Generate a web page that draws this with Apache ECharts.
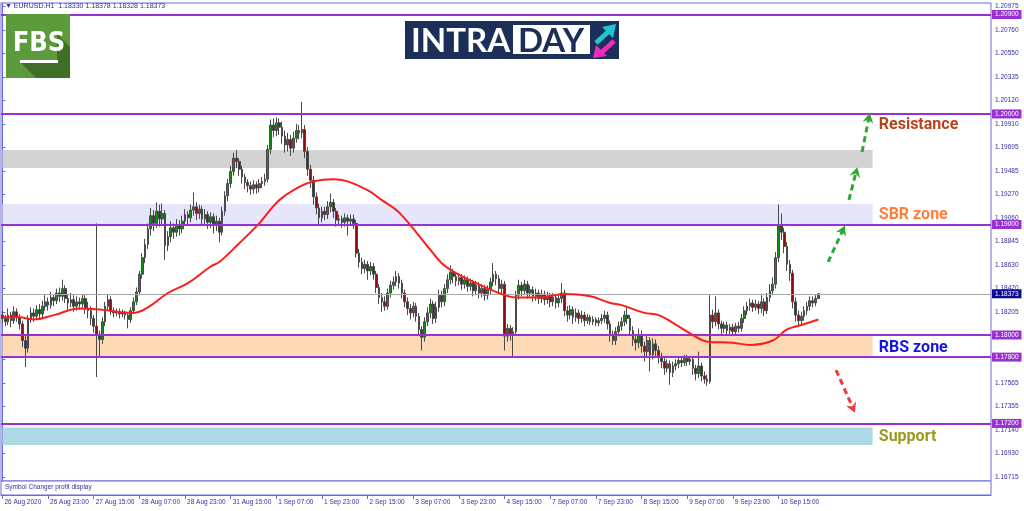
<!DOCTYPE html>
<html><head><meta charset="utf-8">
<script src="https://cdn.jsdelivr.net/npm/echarts@6/dist/echarts.min.js"></script>
<style>html,body{margin:0;padding:0;background:#fff}#c{width:1024px;height:511px}</style>
</head><body><div id="c"></div>
<script>
// ---- time slots (hourly bars, weekends skipped) ----
const tradingDays = ['26 Aug','27 Aug','28 Aug','31 Aug','1 Sep','2 Sep','3 Sep','4 Sep','7 Sep','8 Sep','9 Sep','10 Sep','11 Sep','14 Sep','15 Sep'];
const firstHour = 7;
const slotCount = 347;
const firstLabel = '26 Aug 2020';
const labelEvery = 16;

// ---- EURUSD H1 candles ----
const opens = [
1.1818,1.1815,1.1812,1.1818,1.1813,1.1821,1.1816,1.1810,1.1795,1.1788,
1.1815,1.1820,1.1817,1.1823,1.1819,1.1826,1.1830,1.1827,1.1834,1.1831,
1.1838,1.1835,1.1842,1.1833,1.1829,1.1832,1.1826,1.1830,1.1828,1.1833,
1.1824,1.1822,1.1815,1.1808,1.1800,1.1796,1.1812,1.1826,1.1832,1.1822,
1.1820,1.1821,1.1819,1.1820,1.1818,1.1814,1.1822,1.1830,1.1839,1.1855,
1.1870,1.1882,1.1896,1.1908,1.1901,1.1912,1.1905,1.1910,1.1881,1.1889,
1.1897,1.1893,1.1900,1.1896,1.1903,1.1909,1.1906,1.1913,1.1916,1.1910,
1.1914,1.1905,1.1909,1.1902,1.1907,1.1899,1.1903,1.1893,1.1912,1.1926,
1.1937,1.1948,1.1960,1.1957,1.1950,1.1943,1.1938,1.1935,1.1932,1.1936,
1.1933,1.1937,1.1939,1.1941,1.1968,1.1990,1.1985,1.1992,1.1988,1.1980,
1.1972,1.1977,1.1969,1.1978,1.1985,1.1983,1.1986,1.1966,1.1950,1.1940,
1.1925,1.1915,1.1906,1.1912,1.1909,1.1916,1.1920,1.1912,1.1904,1.1905,
1.1902,1.1906,1.1903,1.1905,1.1901,1.1874,1.1866,1.1860,1.1864,1.1858,
1.1862,1.1855,1.1843,1.1834,1.1830,1.1826,1.1838,1.1845,1.1848,1.1853,
1.1847,1.1838,1.1830,1.1824,1.1820,1.1826,1.1817,1.1805,1.1798,1.1812,
1.1820,1.1828,1.1815,1.1825,1.1836,1.1830,1.1842,1.1850,1.1857,1.1853,
1.1849,1.1852,1.1846,1.1850,1.1844,1.1847,1.1840,1.1845,1.1838,1.1842,
1.1836,1.1841,1.1848,1.1855,1.1851,1.1842,1.1846,1.1799,1.1806,1.1801,
1.1803,1.1836,1.1845,1.1840,1.1846,1.1838,1.1841,1.1835,1.1838,1.1833,
1.1837,1.1832,1.1835,1.1830,1.1834,1.1829,1.1833,1.1838,1.1822,1.1818,
1.1823,1.1816,1.1820,1.1815,1.1818,1.1813,1.1816,1.1812,1.1814,1.1811,
1.1813,1.1815,1.1818,1.1810,1.1800,1.1795,1.1803,1.1808,1.1812,1.1818,
1.1815,1.1804,1.1796,1.1793,1.1800,1.1790,1.1785,1.1795,1.1782,1.1792,
1.1786,1.1780,1.1776,1.1770,1.1774,1.1766,1.1772,1.1774,1.1777,1.1775,
1.1779,1.1776,1.1778,1.1770,1.1765,1.1772,1.1763,1.1760,1.1758,1.1818,
1.1812,1.1820,1.1810,1.1806,1.1809,1.1804,1.1807,1.1803,1.1808,1.1806,
1.1815,1.1822,1.1826,1.1829,1.1825,1.1828,1.1824,1.1830,1.1822,1.1834,
1.1840,1.1846,1.1870,1.1900,1.1893,1.1880,1.1864,1.1856,1.1830,1.1818,
1.1813,1.1817,1.1822,1.1826,1.1831,1.1829,1.18330];
const closes = [
1.1815,1.1812,1.1818,1.1813,1.1821,1.1816,1.1810,1.1795,1.1788,1.1815,
1.1820,1.1817,1.1823,1.1819,1.1826,1.1830,1.1827,1.1834,1.1831,1.1838,
1.1835,1.1842,1.1833,1.1829,1.1832,1.1826,1.1830,1.1828,1.1833,1.1824,
1.1822,1.1815,1.1808,1.1800,1.1796,1.1812,1.1826,1.1832,1.1822,1.1820,
1.1821,1.1819,1.1820,1.1818,1.1814,1.1822,1.1830,1.1839,1.1855,1.1870,
1.1882,1.1896,1.1908,1.1901,1.1912,1.1905,1.1910,1.1881,1.1889,1.1897,
1.1893,1.1900,1.1896,1.1903,1.1909,1.1906,1.1913,1.1916,1.1910,1.1914,
1.1905,1.1909,1.1902,1.1907,1.1899,1.1903,1.1893,1.1912,1.1926,1.1937,
1.1948,1.1960,1.1957,1.1950,1.1943,1.1938,1.1935,1.1932,1.1936,1.1933,
1.1937,1.1939,1.1941,1.1968,1.1990,1.1985,1.1992,1.1988,1.1980,1.1972,
1.1977,1.1969,1.1978,1.1985,1.1983,1.1986,1.1966,1.1950,1.1940,1.1925,
1.1915,1.1906,1.1912,1.1909,1.1916,1.1920,1.1912,1.1904,1.1905,1.1902,
1.1906,1.1903,1.1905,1.1901,1.1874,1.1866,1.1860,1.1864,1.1858,1.1862,
1.1855,1.1843,1.1834,1.1830,1.1826,1.1838,1.1845,1.1848,1.1853,1.1847,
1.1838,1.1830,1.1824,1.1820,1.1826,1.1817,1.1805,1.1798,1.1812,1.1820,
1.1828,1.1815,1.1825,1.1836,1.1830,1.1842,1.1850,1.1857,1.1853,1.1849,
1.1852,1.1846,1.1850,1.1844,1.1847,1.1840,1.1845,1.1838,1.1842,1.1836,
1.1841,1.1848,1.1855,1.1851,1.1842,1.1846,1.1799,1.1806,1.1801,1.1803,
1.1836,1.1845,1.1840,1.1846,1.1838,1.1841,1.1835,1.1838,1.1833,1.1837,
1.1832,1.1835,1.1830,1.1834,1.1829,1.1833,1.1838,1.1822,1.1818,1.1823,
1.1816,1.1820,1.1815,1.1818,1.1813,1.1816,1.1812,1.1814,1.1811,1.1813,
1.1815,1.1818,1.1810,1.1800,1.1795,1.1803,1.1808,1.1812,1.1818,1.1815,
1.1804,1.1796,1.1793,1.1800,1.1790,1.1785,1.1795,1.1782,1.1792,1.1786,
1.1780,1.1776,1.1770,1.1774,1.1766,1.1772,1.1774,1.1777,1.1775,1.1779,
1.1776,1.1778,1.1770,1.1765,1.1772,1.1763,1.1760,1.1758,1.1818,1.1812,
1.1820,1.1810,1.1806,1.1809,1.1804,1.1807,1.1803,1.1808,1.1806,1.1815,
1.1822,1.1826,1.1829,1.1825,1.1828,1.1824,1.1830,1.1822,1.1834,1.1840,
1.1846,1.1870,1.1900,1.1893,1.1880,1.1864,1.1856,1.1830,1.1818,1.1813,
1.1817,1.1822,1.1826,1.1831,1.1829,1.1833,1.18373];
const lows = [
1.1811,1.1808,1.1809,1.1807,1.1810,1.1812,1.1805,1.1789,1.1771,1.1784,
1.1811,1.1812,1.1814,1.1815,1.1816,1.1822,1.1822,1.1824,1.1826,1.1828,
1.1830,1.1831,1.1829,1.1823,1.1825,1.1821,1.1822,1.1823,1.1825,1.1819,
1.1815,1.1809,1.1802,1.1762,1.1781,1.1792,1.1808,1.1822,1.1818,1.1816,
1.1817,1.1815,1.1816,1.1814,1.1806,1.1811,1.1819,1.1827,1.1836,1.1851,
1.1865,1.1878,1.1890,1.1894,1.1897,1.1898,1.1899,1.1868,1.1876,1.1884,
1.1887,1.1889,1.1890,1.1892,1.1899,1.1900,1.1902,1.1908,1.1904,1.1905,
1.1899,1.1900,1.1896,1.1897,1.1892,1.1894,1.1884,1.1890,1.1908,1.1921,
1.1933,1.1944,1.1951,1.1944,1.1937,1.1932,1.1929,1.1927,1.1928,1.1928,
1.1929,1.1933,1.1935,1.1938,1.1964,1.1979,1.1980,1.1981,1.1973,1.1965,
1.1966,1.1962,1.1965,1.1974,1.1977,1.1978,1.1960,1.1944,1.1933,1.1918,
1.1909,1.1900,1.1902,1.1904,1.1905,1.1911,1.1906,1.1898,1.1900,1.1897,
1.1898,1.1890,1.1899,1.1896,1.1870,1.1861,1.1855,1.1856,1.1850,1.1854,
1.1850,1.1838,1.1828,1.1821,1.1822,1.1823,1.1834,1.1841,1.1844,1.1842,
1.1833,1.1825,1.1818,1.1814,1.1816,1.1812,1.1799,1.1786,1.1794,1.1808,
1.1815,1.1810,1.1811,1.1821,1.1825,1.1826,1.1838,1.1846,1.1847,1.1844,
1.1845,1.1841,1.1842,1.1839,1.1840,1.1835,1.1836,1.1833,1.1834,1.1831,
1.1832,1.1837,1.1844,1.1845,1.1837,1.1838,1.1786,1.1794,1.1795,1.1780,
1.1800,1.1832,1.1835,1.1836,1.1833,1.1834,1.1830,1.1831,1.1828,1.1829,
1.1827,1.1828,1.1825,1.1826,1.1824,1.1825,1.1829,1.1817,1.1812,1.1814,
1.1810,1.1812,1.1810,1.1811,1.1808,1.1810,1.1809,1.1809,1.1808,1.1808,
1.1810,1.1811,1.1805,1.1794,1.1791,1.1791,1.1799,1.1804,1.1808,1.1810,
1.1799,1.1790,1.1786,1.1788,1.1784,1.1776,1.1781,1.1767,1.1778,1.1780,
1.1774,1.1770,1.1764,1.1766,1.1755,1.1762,1.1768,1.1770,1.1771,1.1772,
1.1772,1.1773,1.1764,1.1759,1.1761,1.1758,1.1756,1.1754,1.1756,1.1806,
1.1808,1.1805,1.1801,1.1802,1.1800,1.1801,1.1799,1.1800,1.1802,1.1803,
1.1811,1.1818,1.1822,1.1821,1.1822,1.1819,1.1820,1.1817,1.1819,1.1830,
1.1836,1.1842,1.1866,1.1886,1.1874,1.1858,1.1849,1.1824,1.1812,1.1809,
1.1810,1.1813,1.1818,1.1822,1.1825,1.1826,1.18328];
const highs = [
1.1822,1.1818,1.1824,1.1821,1.1826,1.1824,1.1819,1.1813,1.1799,1.1818,
1.1825,1.1824,1.1827,1.1828,1.1831,1.1836,1.1834,1.1839,1.1837,1.1842,
1.1843,1.1850,1.1845,1.1837,1.1838,1.1836,1.1835,1.1834,1.1837,1.1836,
1.1830,1.1826,1.1818,1.1901,1.1804,1.1816,1.1830,1.1837,1.1835,1.1825,
1.1824,1.1824,1.1823,1.1822,1.1820,1.1825,1.1834,1.1843,1.1858,1.1874,
1.1887,1.1901,1.1915,1.1913,1.1920,1.1918,1.1919,1.1913,1.1894,1.1903,
1.1901,1.1905,1.1904,1.1908,1.1914,1.1912,1.1918,1.1929,1.1920,1.1918,
1.1917,1.1914,1.1912,1.1911,1.1910,1.1908,1.1906,1.1916,1.1930,1.1941,
1.1953,1.1965,1.1967,1.1960,1.1953,1.1946,1.1941,1.1939,1.1940,1.1939,
1.1941,1.1943,1.1946,1.1972,1.1995,1.1996,1.1997,1.1996,1.1993,1.1985,
1.1983,1.1981,1.1984,1.1991,1.1990,1.2011,1.1990,1.1970,1.1954,1.1944,
1.1929,1.1919,1.1916,1.1916,1.1921,1.1928,1.1923,1.1915,1.1909,1.1908,
1.1910,1.1909,1.1909,1.1909,1.1904,1.1878,1.1870,1.1868,1.1867,1.1866,
1.1865,1.1858,1.1846,1.1838,1.1835,1.1842,1.1849,1.1853,1.1858,1.1856,
1.1850,1.1841,1.1834,1.1828,1.1830,1.1829,1.1820,1.1808,1.1816,1.1825,
1.1833,1.1831,1.1830,1.1841,1.1840,1.1846,1.1855,1.1863,1.1860,1.1856,
1.1856,1.1855,1.1854,1.1853,1.1851,1.1850,1.1849,1.1848,1.1846,1.1845,
1.1845,1.1852,1.1865,1.1858,1.1854,1.1850,1.1849,1.1810,1.1809,1.1807,
1.1840,1.1850,1.1848,1.1850,1.1849,1.1845,1.1844,1.1842,1.1841,1.1841,
1.1840,1.1839,1.1838,1.1838,1.1837,1.1837,1.1847,1.1841,1.1826,1.1827,
1.1826,1.1824,1.1823,1.1822,1.1821,1.1819,1.1818,1.1817,1.1816,1.1816,
1.1819,1.1822,1.1821,1.1813,1.1804,1.1807,1.1812,1.1816,1.1822,1.1825,
1.1818,1.1808,1.1800,1.1806,1.1804,1.1794,1.1800,1.1798,1.1797,1.1796,
1.1790,1.1784,1.1780,1.1778,1.1777,1.1776,1.1778,1.1780,1.1781,1.1782,
1.1782,1.1781,1.1781,1.1773,1.1785,1.1775,1.1767,1.1764,1.1836,1.1823,
1.1835,1.1823,1.1813,1.1812,1.1812,1.1810,1.1810,1.1811,1.1812,1.1819,
1.1826,1.1830,1.1833,1.1832,1.1832,1.1831,1.1836,1.1833,1.1838,1.1846,
1.1852,1.1875,1.1918,1.1910,1.1897,1.1884,1.1868,1.1859,1.1834,1.1822,
1.1821,1.1826,1.1830,1.1835,1.1835,1.1836,1.18378];

// ---- red moving average (read at sample bars) ----
const maIndex = [0,6,11,18,27,34,46,51,58,65,73,76,83,90,97,104,109,116,121,128,133,139,150,154,159,166,173,180,188,197,206,213,217,225,230,235,242,247,256,262,270,275,280,286];
const maValues = [1.1816,1.1816,1.1814,1.1818,1.1824,1.1823,1.1820,1.1825,1.1838,1.1847,1.1862,1.1866,1.1883,1.1901,1.1922,1.1934,1.1939,1.1941,1.1939,1.1931,1.1922,1.1911,1.1877,1.1865,1.1856,1.1847,1.1839,1.1834,1.1834,1.1837,1.1835,1.1829,1.1827,1.1820,1.1818,1.1811,1.1800,1.1794,1.1793,1.1791,1.1795,1.1805,1.1809,1.1814];

// ---- axis ticks ----
const yTicks = [1.20975,1.20760,1.20550,1.20335,1.20120,1.19910,1.19695,1.19485,1.19270,1.19060,1.18845,1.18630,1.18420,1.18205,1.17990,1.17780,1.17565,1.17355,1.17140,1.16930,1.16715];
const yMin = 1.16679, yMax = 1.21004;

// ---- levels and zones ----
const levels = [1.209, 1.200, 1.190, 1.180, 1.178, 1.172];
const lastPrice = 1.18373;
const zoneLow  = [1.19511, 1.19000, 1.17800, 1.17005];
const zoneHigh = [1.19674, 1.19186, 1.18000, 1.17164];
const zoneEndBar = 305;
const noteTexts  = ['Resistance', 'SBR zone', 'RBS zone', 'Support'];
const notePrices = [1.19900, 1.19086, 1.17882, 1.17077];
const noteBar = 307;
const upArrowFromBar = [289.4, 296.7, 301.3];
const upArrowFromPrice = [1.18661, 1.19222, 1.19656];
const upArrowToBar = [294.6, 299.2, 303.7];
const upArrowToPrice = [1.18950, 1.19475, 1.19964];
const downArrowFromBar = [292.2];
const downArrowFromPrice = [1.17683];
const downArrowToBar = [298.1];
const downArrowToPrice = [1.17339];

// ---- build ----
const categories = [];
for (let d = 0; d < tradingDays.length && categories.length < slotCount; d++) {
  for (let h = (d === 0 ? firstHour : 0); h < 24 && categories.length < slotCount; h++) {
    categories.push(tradingDays[d] + ' ' + String(h).padStart(2, '0') + ':00');
  }
}
const lastBar = closes.length - 1;
const candles = opens.map((o, i) => [o, closes[i], lows[i], highs[i]]);
const maData = maIndex.map((b, k) => [b, maValues[k]]);
const showLabelAt = i => i % labelEvery === 0 && i <= lastBar;

const FRAME = '#6a6ad8';
const TXT = '#3030a0';
const PURPLE = '#9b30d0';
const SMALL = 6.5;
const FONT = '"Liberation Sans", Arial, sans-serif';
const chevron = 'path://M5,0 L10,9 L5,6 L0,9 Z';

const chart = echarts.init(document.getElementById('c'), null, {renderer: 'canvas'});
chart.setOption({
  animation: false,
  backgroundColor: '#ffffff',
  textStyle: {fontFamily: FONT},
  grid: [
    {left: 1, right: 33, top: 3, height: 478, show: true, borderColor: FRAME, borderWidth: 1, backgroundColor: '#fff'},
    {left: 1, right: 33, top: 481, height: 14, show: true, borderColor: FRAME, borderWidth: 1, backgroundColor: '#fff'}
  ],
  xAxis: [
    {type: 'category', gridIndex: 0, data: categories, boundaryGap: true, show: false},
    {type: 'category', gridIndex: 1, data: categories, boundaryGap: true,
      axisLine: {show: true, lineStyle: {color: FRAME}},
      axisTick: {show: true, alignWithLabel: true, interval: (i) => showLabelAt(i), length: 4, lineStyle: {color: FRAME}},
      axisLabel: {interval: (i) => showLabelAt(i), align: 'left', color: TXT, fontSize: SMALL, fontFamily: FONT, margin: 4, padding: [0, 0, 0, 2],
        formatter: (v, i) => i === 0 ? firstLabel : v}},
    {type: 'value', gridIndex: 0, min: -0.5, max: slotCount - 0.5, show: false}
  ],
  yAxis: [
    {type: 'value', gridIndex: 0, position: 'right', min: yMin, max: yMax, scale: true,
      splitLine: {show: false},
      axisLine: {show: true, lineStyle: {color: FRAME}},
      axisTick: {show: true, customValues: yTicks, length: 3, lineStyle: {color: FRAME}},
      axisLabel: {customValues: yTicks, color: TXT, fontSize: SMALL, fontFamily: FONT, margin: 4,
        formatter: v => v.toFixed(5)}},
    {type: 'value', gridIndex: 1, show: false, min: 0, max: 1}
  ],
  series: [
    {type: 'line', name: 'zones', xAxisIndex: 0, yAxisIndex: 0, data: [], z: 1, silent: true,
      markArea: {silent: true, data: zoneLow.map((lo, k) => [
        {xAxis: categories[0], yAxis: lo, itemStyle: {color: ['#d3d3d3', '#e6e6fa', '#fdd9b6', '#add8e6'][k], opacity: 1}},
        {xAxis: categories[zoneEndBar], yAxis: zoneHigh[k]}])}},
    {type: 'candlestick', name: 'EURUSD', xAxisIndex: 0, yAxisIndex: 0, data: candles, z: 3, barWidth: 2.2,
      itemStyle: {color: '#138f13', color0: '#8e0c0c', borderColor: '#4a4a4a', borderColor0: '#4a4a4a', borderWidth: 1}},
    {type: 'line', name: 'levels', xAxisIndex: 0, yAxisIndex: 0, data: [], z: 4, silent: true,
      markLine: {silent: true, symbol: ['none', 'none'], animation: false, precision: 5,
        lineStyle: {color: PURPLE, width: 2, type: 'solid'},
        label: {show: true, position: 'end', distance: 1, backgroundColor: PURPLE, color: '#fff', fontSize: SMALL, fontFamily: FONT, padding: [1, 3, 1, 3],
          formatter: p => Number(p.value).toFixed(5)},
        data: levels.map(v => ({yAxis: v}))
          .concat([{yAxis: lastPrice, lineStyle: {color: '#a8a8a8', width: 1},
            label: {backgroundColor: '#0c0c94', color: '#fff'}}])}},
    {type: 'line', name: 'MA', xAxisIndex: 2, yAxisIndex: 0, data: maData, smooth: 0.4, showSymbol: false, z: 5,
      lineStyle: {color: '#ff1c1c', width: 2}, itemStyle: {color: '#ff1c1c'}},
    {type: 'line', name: 'notes', xAxisIndex: 2, yAxisIndex: 0, data: [], z: 6, silent: true,
      markLine: {silent: true, symbol: ['none', chevron], symbolSize: [11, 10], label: {show: false}, precision: 5,
        data: upArrowFromBar.map((b, k) => [
          {coord: [b, upArrowFromPrice[k]], lineStyle: {color: '#2ea82e', width: 3, type: [6, 4]}},
          {coord: [upArrowToBar[k], upArrowToPrice[k]]}])
        .concat(downArrowFromBar.map((b, k) => [
          {coord: [b, downArrowFromPrice[k]], lineStyle: {color: '#f03a3a', width: 3, type: [6, 4]}},
          {coord: [downArrowToBar[k], downArrowToPrice[k]]}]))},
      markPoint: {silent: true, symbol: 'rect', symbolSize: 1, itemStyle: {color: 'rgba(0,0,0,0)'},
        label: {show: true, position: 'right', distance: 0, fontSize: 16, fontWeight: 'bold', fontFamily: 'Roboto'},
        data: noteTexts.map((t, k) => ({coord: [noteBar, notePrices[k]],
          label: {formatter: t, color: ['#b8431c', '#ff7f3a', '#1616e0', '#9c9c1c'][k]}}))}}
  ],
  graphic: [
    {type: 'text', left: 5, top: 3, z: 100, style: {text: '\u25BC EURUSD.H1  1.18330 1.18378 1.18328 1.18373', fill: TXT, fontSize: 7, fontFamily: FONT}},
    {type: 'text', left: 5, top: 484, z: 100, style: {text: 'Symbol Changer profit display', fill: TXT, fontSize: SMALL, fontFamily: FONT}},
    // FBS logo
    {type: 'rect', z: 100, shape: {x: 6, y: 14, width: 64, height: 64}, style: {fill: '#5c9b3c'}},
    {type: 'polygon', z: 101, shape: {points: [[57, 34], [70, 47], [70, 78], [36, 78], [21, 63], [57, 63]]}, style: {fill: '#3f6e27'}},
    {type: 'text', z: 102, style: {text: 'FBS', x: 39, y: 44, fill: '#ffffff', fontSize: 27, fontWeight: 'bold', fontFamily: '"Liberation Sans Narrow", "DejaVu Sans Condensed", sans-serif', align: 'center', verticalAlign: 'middle'}},
    {type: 'rect', z: 102, shape: {x: 20, y: 60, width: 38, height: 3}, style: {fill: '#ffffff'}},
    // INTRADAY logo
    {type: 'rect', z: 100, shape: {x: 405, y: 21, width: 214, height: 38}, style: {fill: '#1b2f58'}},
    {type: 'text', z: 101, style: {text: 'INTRA', x: 411, y: 41, fill: '#ffffff', fontSize: 33, fontWeight: 'bold', fontFamily: 'Lato, "Open Sans", sans-serif', align: 'left', verticalAlign: 'middle'}},
    {type: 'rect', z: 101, shape: {x: 513, y: 25, width: 77, height: 29}, style: {fill: '#ffffff'}},
    {type: 'text', z: 102, style: {text: 'DAY', x: 551, y: 41, fill: '#1b2f58', fontSize: 33, fontWeight: 'bold', fontFamily: 'Lato, "Open Sans", sans-serif', align: 'center', verticalAlign: 'middle'}},
    {type: 'line', z: 101, shape: {x1: 596, y1: 43, x2: 608, y2: 32}, style: {stroke: '#22c6d2', lineWidth: 5}},
    {type: 'polygon', z: 101, shape: {points: [[602, 27], [616, 24], [613, 38]]}, style: {fill: '#22c6d2'}},
    {type: 'line', z: 101, shape: {x1: 614, y1: 41, x2: 602, y2: 52}, style: {stroke: '#ee2cb9', lineWidth: 5}},
    {type: 'polygon', z: 101, shape: {points: [[596, 45], [593, 58], [607, 56]]}, style: {fill: '#ee2cb9'}}
  ]
});
</script>
</body></html>
